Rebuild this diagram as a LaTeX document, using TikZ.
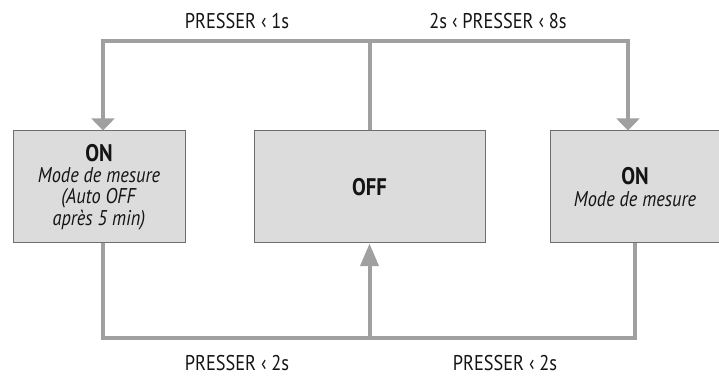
\documentclass[tikz,border=0pt]{standalone}
\usepackage{fontspec}
\setmainfont{PT Sans}[FakeStretch=0.86]
\usetikzlibrary{arrows.meta,calc}

\definecolor{boxfill}{RGB}{220,220,220}
\definecolor{boxline}{RGB}{110,110,110}
\definecolor{flowgray}{RGB}{160,160,160}
\definecolor{txt}{RGB}{20,20,20}

\newcommand{\statename}[1]{{\fontsize{18}{16}\selectfont\textbf{#1}}}

\tikzset{every picture/.style={line width=0.75pt}}
\tikzset{
	statebox/.style={draw=boxline, fill=boxfill, line width=0.75pt, minimum height=84pt, inner sep=0pt, align=center, text=txt, font=\fontsize{16}{16}\selectfont},
	flow/.style={draw=flowgray, line width=3pt},
	downtip/.style={-{Triangle[width=17pt,length=9pt]}},
	uptip/.style={-{Triangle[width=13.5pt,length=17pt]}},
	presslabel/.style={text=txt, inner sep=0.75pt, font=\fontsize{16}{15}\selectfont}
}

\begin{document}
\begin{tikzpicture}[x=0.75pt,y=0.75pt,yscale=-1,xscale=1]
	\useasboundingbox (0,0) rectangle (719,377);

	% States
	\node [statebox, minimum width=129pt] (onA) at (99,187) {\statename{ON}\\\textit{Mode de mesure}\\\textit{(Auto OFF}\\\textit{après 5 min)}};
	\node [statebox, minimum width=173.25pt] (off) at (369.5,187) {\statename{OFF}};
	\node [statebox, minimum width=127.5pt] (onB) at (635,187) {\statename{ON}\\\textit{Mode de mesure}};

	% Junctions
	\coordinate (tl) at (103,41);
	\coordinate (tr) at (628,41);
	\coordinate (bl) at (103,338);
	\coordinate (br) at (635,338);

	% Connectors on top
	\draw [flow, downtip] (off.north) |- (tl) -- (tl |- onA.north);
	\draw [flow, downtip] (off.north) |- (tr) -- (tr |- onB.north);

	% Connectors below
	\draw [flow] (bl |- onA.south) -- (bl) -- (br) -- (br |- onB.south);
	\draw [flow, uptip] (off.south |- bl) -- (off.south);

	% Labels
	\node [presslabel] (pressA) at (237,21) {PRESSER ‹ 1s};
	\node [presslabel] (pressB) at (498,21) {2s ‹ PRESSER ‹ 8s};
	\node [presslabel] (pressC) at (237,363) {PRESSER ‹ 2s};
	\node [presslabel] (pressD) at (505,363) {PRESSER ‹ 2s};
\end{tikzpicture}
\end{document}
